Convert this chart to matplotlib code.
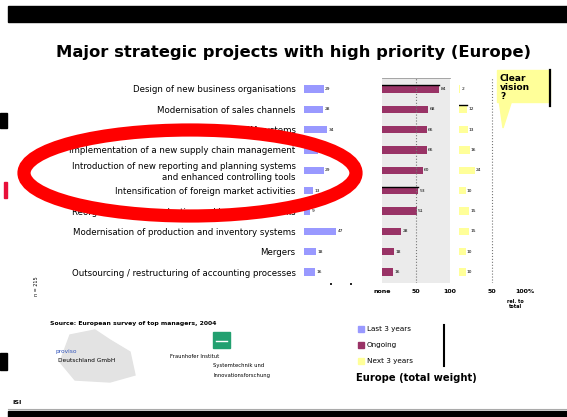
import numpy as np
import matplotlib
matplotlib.use('Agg')
import matplotlib.pyplot as plt
from matplotlib.patches import Ellipse, Rectangle, Polygon

# data
projects = [
    'Design of new business organisations',
    'Modernisation of sales channels',
    'Introduction of ERP/SCM systems',
    'Implementation of a new supply chain management',
    'Introduction of new reporting and planning systems\nand enhanced controlling tools',
    'Intensification of foreign market activities',
    'Reorganisation of production and logistics networks',
    'Modernisation of production and inventory systems',
    'Mergers',
    'Outsourcing / restructuring of accounting processes',
]
last_3_years = [29, 28, 34, 21, 29, 13, 9, 47, 18, 16]
ongoing = [84, 68, 66, 66, 60, 53, 51, 28, 18, 16]
next_3_years = [2, 12, 13, 16, 24, 10, 15, 15, 10, 10]

series_names = ['Last 3 years', 'Ongoing', 'Next 3 years']
colors = ['#9999ff', '#993366', '#ffff99']

W, H = 567, 417
fig = plt.figure(figsize=(W / 100, H / 100), dpi=100)
fig.patch.set_facecolor('white')


def px_axes(x0, y0, x1, y1):
    return fig.add_axes([x0 / W, 1 - y1 / H, (x1 - x0) / W, (y1 - y0) / H])


rows = np.arange(len(projects))
ylim = (len(projects) - 1 + 0.54, -0.54)

# left panel: last 3 years
ax1 = px_axes(304, 78, 372, 283)
ax1.barh(rows, last_3_years, height=0.37, color=colors[0])
ax1.set_xlim(0, 100)
ax1.set_ylim(*ylim)
ax1.set_yticks(rows)
ax1.set_yticklabels(projects, fontsize=6.2, linespacing=1.2)
ax1.tick_params(axis='y', length=0, pad=6)
ax1.set_xticks([40, 69])
ax1.set_xticklabels([])
ax1.tick_params(axis='x', length=1.5, width=1.2, color='black')
for s in ax1.spines.values():
    s.set_visible(False)
ax1.patch.set_alpha(0)
for i, v in enumerate(last_3_years):
    ax1.text(v + 2, i, str(v), fontsize=3.2, va='center')

# middle panel: ongoing
ax2 = px_axes(382, 78, 450, 283)
ax2.set_facecolor('#ebebeb')
ax2.barh(rows, ongoing, height=0.37, color=colors[1])
ax2.set_xlim(0, 100)
ax2.set_ylim(*ylim)
ax2.set_yticks([])
ax2.axvline(50, color='#777777', lw=0.8, ls=':')
ax2.set_xticks([0, 50, 100])
ax2.set_xticklabels(['none', '50', '100'], fontsize=4.5, fontweight='bold')
ax2.tick_params(axis='x', length=0, pad=4)
for s in ax2.spines.values():
    s.set_visible(False)
ax2.spines['top'].set_visible(True)
ax2.spines['top'].set_color('#999999')
ax2.spines['top'].set_linewidth(0.6)
for i, v in enumerate(ongoing):
    ax2.text(v + 2, i, str(v), fontsize=3.2, va='center')
ax2.plot([0, ongoing[0]], [-0.19, -0.19], color='black', lw=1.0)
ax2.plot([0, ongoing[5]], [4.81, 4.81], color='black', lw=1.0)

# right panel: next 3 years
ax3 = px_axes(459, 78, 525, 283)
ax3.barh(rows, next_3_years, height=0.37, color=colors[2])
ax3.set_xlim(0, 100)
ax3.set_ylim(*ylim)
ax3.set_yticks([])
ax3.axvline(50, color='#777777', lw=0.8, ls=':')
ax3.set_xticks([50, 100])
ax3.set_xticklabels(['50', '100%'], fontsize=4.5, fontweight='bold')
ax3.tick_params(axis='x', length=0, pad=4)
for s in ax3.spines.values():
    s.set_visible(False)
ax3.patch.set_alpha(0)
for i, v in enumerate(next_3_years):
    ax3.text(v + 2, i, str(v), fontsize=3.2, va='center')
ax3.plot([0, next_3_years[1]], [0.81, 0.81], color='black', lw=1.0)

# overlay for slide decorations
ov = fig.add_axes([0, 0, 1, 1])
ov.set_xlim(0, W)
ov.set_ylim(H, 0)
ov.axis('off')
ov.patch.set_alpha(0)

ov.add_patch(Rectangle((8, 6), W - 8, 16, color='black'))
ov.add_patch(Rectangle((8, 411), W - 8, 6, color='black'))
ov.plot([8, W], [409, 409], color='#aaaaaa', lw=0.8)
ov.add_patch(Rectangle((0, 113), 7, 15, color='black'))
ov.add_patch(Rectangle((0, 353), 7, 17, color='black'))
ov.add_patch(Rectangle((4, 182), 3, 16, color='#e8103a'))

ov.text(293, 52, 'Major strategic projects with high priority (Europe)',
        fontsize=11.8, fontweight='bold', ha='center', va='center')

ov.text(36, 286, 'n = 215', fontsize=3.5, rotation=90, ha='center', va='center')
ov.text(515, 304, 'rel. to\ntotal', fontsize=3.5, fontweight='bold',
        ha='center', va='center', linespacing=0.9)

# callout
ov.add_patch(Polygon([[499, 100], [512, 100], [503, 128]], closed=True,
                     color='#ffff99', zorder=3))
ov.add_patch(Rectangle((497, 70), 53, 32, color='#ffff99', zorder=3))
ov.plot([550, 550], [70, 106], color='black', lw=1.6, zorder=4)
ov.text(500, 74, 'Clear\nvision\n?', fontsize=6.5, fontweight='bold',
        va='top', ha='left', linespacing=1.0, zorder=5)

# legend
for k, (name, c) in enumerate(zip(series_names, colors)):
    y = 329 + 16 * k
    ov.add_patch(Rectangle((358, y - 3), 6, 6, color=c))
    ov.text(367, y, name, fontsize=5.2, va='center')
ov.plot([444, 444], [325, 366], color='black', lw=1.5)
ov.text(356, 378, 'Europe (total weight)', fontsize=7.2, fontweight='bold',
        va='center')

# source and logos
ov.text(50, 323, 'Source: European survey of top managers, 2004',
        fontsize=4.4, fontweight='bold', va='center')
ov.add_patch(Polygon([[70, 335], [95, 330], [110, 340], [130, 352], [135, 375],
                      [110, 382], [75, 380], [60, 362]], closed=True,
                     color='#e3e3e3', zorder=1))
ov.text(56, 351, 'proviso', fontsize=4.2, color='#3355bb', va='center', zorder=2)
ov.text(58, 360, 'Deutschland GmbH', fontsize=4.2, va='center', zorder=2)
ov.add_patch(Rectangle((213, 332), 17, 16, color='#22a070'))
ov.plot([216, 227], [341, 341], color='white', lw=1)
ov.text(170, 357, 'Fraunhofer Institut', fontsize=3.8, va='center')
ov.text(213, 366, 'Systemtechnik und', fontsize=3.8, va='center')
ov.text(213, 375, 'Innovationsforschung', fontsize=3.8, va='center')
ov.text(12, 403, 'ISI', fontsize=4.5, fontweight='bold', va='center')

# red hand-drawn ellipse
ov.add_patch(Ellipse((190, 173), 332, 86, fill=False, edgecolor='#ff0000',
                     lw=9.5, zorder=10))

fig.savefig('out.png', dpi=100)
